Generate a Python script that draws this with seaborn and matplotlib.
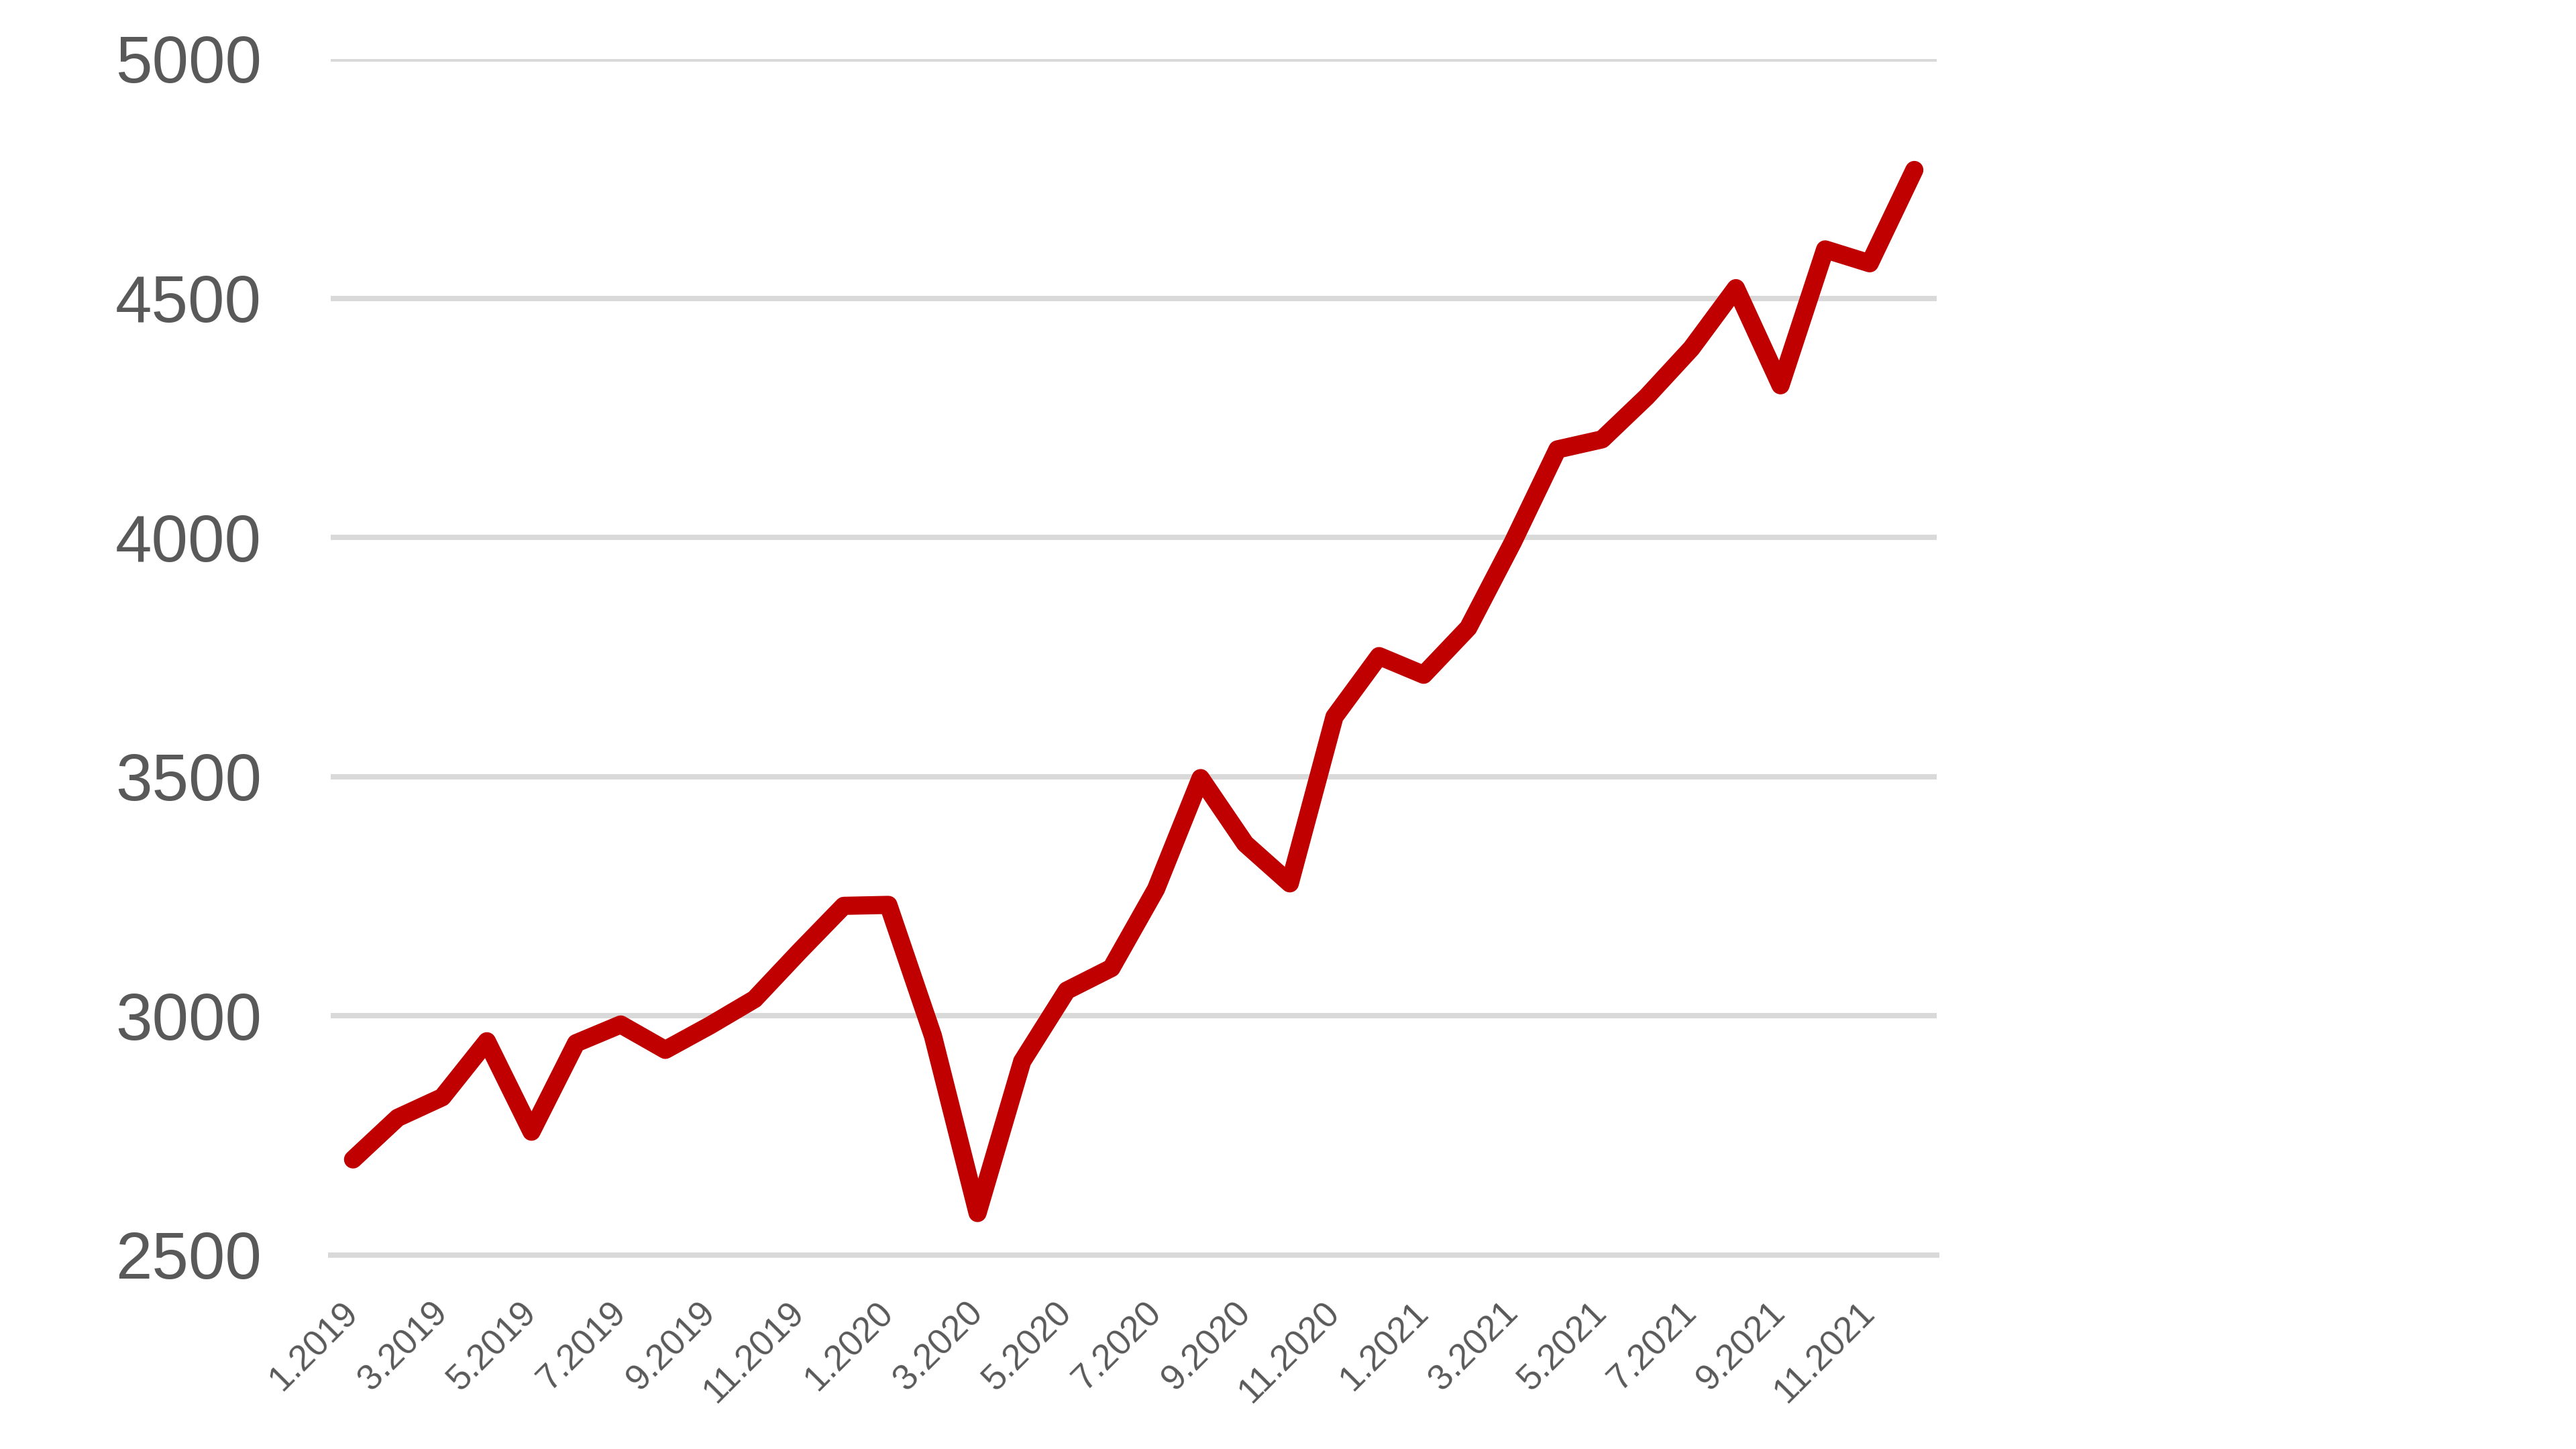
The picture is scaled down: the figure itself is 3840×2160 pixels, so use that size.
import matplotlib
matplotlib.use("Agg")
import matplotlib.pyplot as plt
import numpy as np
import pandas as pd
import seaborn as sns

# Monatswerte 1.2019 - 12.2021
MONTHS = [
    "1.2019", "2.2019", "3.2019", "4.2019", "5.2019", "6.2019",
    "7.2019", "8.2019", "9.2019", "10.2019", "11.2019", "12.2019",
    "1.2020", "2.2020", "3.2020", "4.2020", "5.2020", "6.2020",
    "7.2020", "8.2020", "9.2020", "10.2020", "11.2020", "12.2020",
    "1.2021", "2.2021", "3.2021", "4.2021", "5.2021", "6.2021",
    "7.2021", "8.2021", "9.2021", "10.2021", "11.2021", "12.2021",
]
VALUES = [
    2700, 2787, 2830, 2947, 2758, 2943,
    2982, 2929, 2980, 3035, 3134, 3230,
    3232, 2958, 2588, 2905, 3053, 3100,
    3265, 3497, 3360, 3277, 3625, 3752,
    3713, 3811, 3990, 4184, 4205, 4294,
    4395, 4521, 4318, 4602, 4573, 4768,
]
Y_TICKS = [2500, 3000, 3500, 4000, 4500, 5000]

LINE_COLOR = "#C00000"
GRID_COLOR = "#D9D9D9"
TEXT_COLOR = "#595959"

sns.set_theme(style="white")
plt.rcParams["font.family"] = ["Liberation Sans", "DejaVu Sans"]

df = pd.DataFrame({"monat": MONTHS, "wert": VALUES})
df["pos"] = np.arange(len(df))

fig = plt.figure(figsize=(12.8, 7.2), dpi=300)
ax = fig.add_axes([0.1284, 0.1338, 0.6234, 0.8255])

sns.lineplot(
    data=df, x="pos", y="wert", ax=ax, color=LINE_COLOR, linewidth=6.5,
    solid_capstyle="round", solid_joinstyle="round", zorder=3,
)

ax.set_xlim(-0.5, len(df) - 0.5)
ax.set_ylim(Y_TICKS[0], Y_TICKS[-1])
ax.set_xlabel("")
ax.set_ylabel("")

# y-Achse: nur Gitterlinien, keine Achsenlinie
ax.set_yticks(Y_TICKS)
ax.set_yticklabels([str(t) for t in Y_TICKS])
ax.yaxis.grid(True, color=GRID_COLOR, linewidth=1.9)
ax.xaxis.grid(False)
ax.set_axisbelow(True)
ax.tick_params(axis="y", length=0, pad=24.7, labelsize=23.5, labelcolor=TEXT_COLOR)

# x-Achse: Striche an den Kategoriegrenzen, Beschriftung jeden 2. Monat
ax.set_xticks(np.arange(-0.5, len(df), 2))
ax.set_xticklabels([])
ax.set_xticks(df["pos"][::2], minor=True)
ax.set_xticklabels(
    df["monat"][::2], minor=True, rotation=45, ha="right", va="center",
    rotation_mode="anchor", fontsize=12.8, color=TEXT_COLOR,
)
ax.tick_params(axis="x", which="major", length=4.8, width=1.9, color=GRID_COLOR)
ax.tick_params(axis="x", which="minor", length=0, pad=18.7)

for side in ["top", "right", "left"]:
    ax.spines[side].set_visible(False)
ax.spines["bottom"].set_color(GRID_COLOR)
ax.spines["bottom"].set_linewidth(1.9)

fig.savefig("out.png", dpi=300)
plt.close(fig)
